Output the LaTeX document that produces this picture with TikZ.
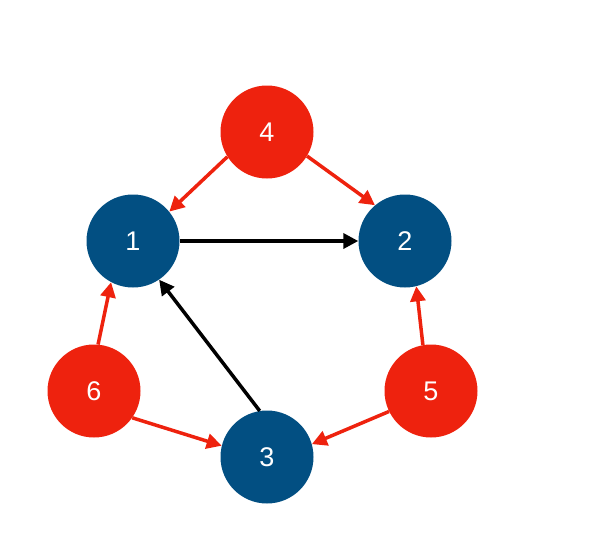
\documentclass[tikz,border=0pt]{standalone}
\usepackage{fontspec}
\setmainfont{Liberation Sans}
\usetikzlibrary{arrows.meta}
\definecolor{nred}{RGB}{238,34,14}
\definecolor{nblue}{RGB}{2,79,130}
\begin{document}
\begin{tikzpicture}[x=1pt,y=-1pt,
  bnode/.style={circle,fill=nblue,minimum size=93pt,inner sep=0pt,text=white,font=\fontsize{27}{30}\selectfont},
  rnode/.style={circle,fill=nred,minimum size=93pt,inner sep=0pt,text=white,font=\fontsize{27}{30}\selectfont},
  redarrow/.style={draw=nred,line width=3.5pt,-{Triangle[length=15pt,width=15pt]}},
  blackarrow/.style={draw=black,line width=3.5pt,-{Triangle[length=15pt,width=15pt]}}]
\useasboundingbox (0,0) rectangle (598,533);
\node[rnode] (n4) at (267,132) {4};
\node[bnode] (n1) at (133,241) {1};
\node[bnode] (n2) at (405,241) {2};
\node[rnode] (n6) at (94,391) {6};
\node[rnode] (n5) at (431,391) {5};
\node[bnode] (n3) at (267,457) {3};
\draw[blackarrow] (n1.0) -- (n2.180);
\draw[blackarrow] (n3.99) -- (n1.-56);
\draw[redarrow] (n4.212) -- (n1.39);
\draw[redarrow] (n4.-31) -- (n2.130);
\draw[redarrow] (n6.85) -- (n1.-118);
\draw[redarrow] (n6.-35) -- (n3.166);
\draw[redarrow] (n5.100) -- (n2.-76);
\draw[redarrow] (n5.206) -- (n3.16);
\end{tikzpicture}
\end{document}
